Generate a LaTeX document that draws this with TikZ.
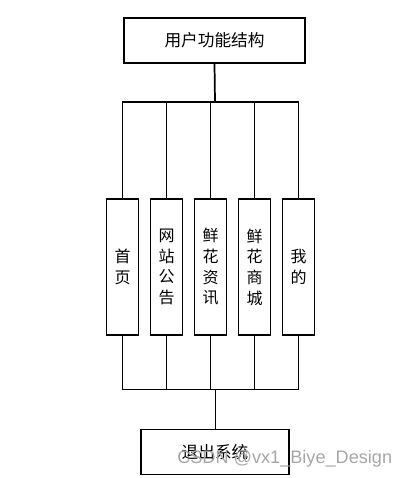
\documentclass[tikz,border=0pt]{standalone}
\usepackage{fontspec}
\newfontfamily\cjk{Noto Sans CJK SC}
\newfontfamily\markfont{Liberation Sans}
\usetikzlibrary{positioning}

\tikzset{
  funcbox/.style={draw,line width=0.9pt,minimum width=32pt*0.75,minimum height=136pt*0.75,
    inner sep=0pt,align=center,font=\cjk\fontsize{12}{15.5}\selectfont},
  titlebox/.style={draw,line width=0.9pt,minimum width=181pt*0.75,minimum height=45pt*0.75,
    inner sep=0pt,font=\cjk\fontsize{12.5}{14}\selectfont},
  link/.style={line width=1pt},
  thinlink/.style={line width=0.6pt},
}

\begin{document}
\begin{tikzpicture}[x=0.75pt,y=-0.75pt,line cap=rect,line join=miter]
  \useasboundingbox (0,0) rectangle (409,478);

  % top and bottom
  \node[titlebox] (user) at (214.5,40.5) {用户功能结构};
  \node[titlebox,minimum width=148pt*0.75] (exit) at (215,452) {退出系统};

  % five functions
  \node[funcbox] (home) at (122.5,267) {首\\页};
  \node[funcbox] (notice) at (166.5,267) {网\\站\\公\\告};
  \node[funcbox] (news) at (210.5,267) {鲜\\花\\资\\讯};
  \node[funcbox] (shop) at (254.5,267) {鲜\\花\\商\\城};
  \node[funcbox] (mine) at (298.5,267) {我\\的};

  \coordinate (topbar) at (215,102);
  \coordinate (botbar) at (215,389);

  % connectors
  \draw[link,line width=1.3pt] (user.south) -- (topbar);
  \draw[link] (home.north) |- (topbar);
  \draw[link] (notice.north) |- (topbar);
  \draw[link] (news.north) |- (topbar);
  \draw[link] (shop.north) |- (topbar);
  \draw[link] (mine.north) |- (topbar);

  \draw[thinlink] (home.south) |- (botbar);
  \draw[thinlink] (notice.south) |- (botbar);
  \draw[thinlink] (news.south) |- (botbar);
  \draw[thinlink] (shop.south) |- (botbar);
  \draw[thinlink] (mine.south) |- (botbar);
  \draw[thinlink] (botbar) -- (exit.north);

  \node[text=black!35,font=\markfont\fontsize{13.6}{14}\selectfont,anchor=west,inner sep=0pt] (mark) at (177,459) {CSDN @vx1\_Biye\_Design};
\end{tikzpicture}
\end{document}
